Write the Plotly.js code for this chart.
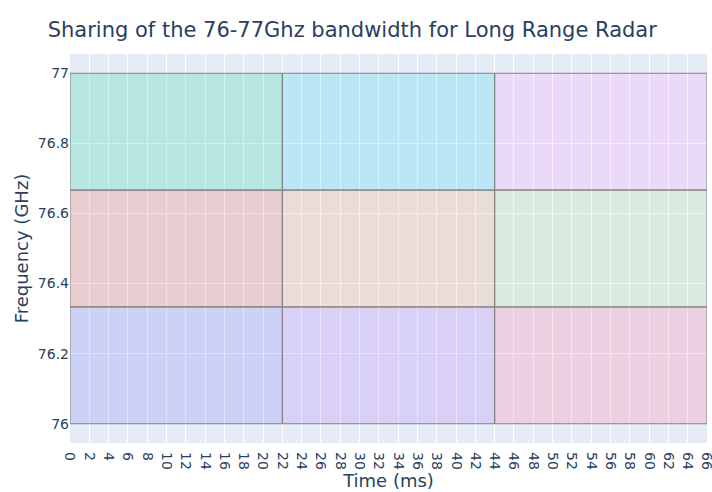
<!DOCTYPE html>
<html>
<head>
<meta charset="utf-8">
<script src="https://cdn.plot.ly/plotly-3.0.1.min.js"></script>
<style>html,body{margin:0;padding:0;background:#fff;}#chart{width:712px;height:492px;}</style>
</head>
<body>
<div id="chart"></div>
<script>
// Time slots (ms) and frequency bands (GHz) for each rectangle, column by column
const timeStart = [0, 0, 0, 22, 22, 22, 44, 44, 44];
const timeEnd   = [22, 22, 22, 44, 44, 44, 66, 66, 66];
const freqStart = [76, 76.3333, 76.6667, 76, 76.3333, 76.6667, 76, 76.3333, 76.6667];
const freqEnd   = [76.3333, 76.6667, 77, 76.3333, 76.6667, 77, 76.3333, 76.6667, 77];
const fillColors = ['#636efa', '#EF553B', '#00cc96', '#ab63fa', '#FFA15A', '#19d3f3', '#FF6692', '#B6E880', '#FF97FF'];
const xTickVals = [0,2,4,6,8,10,12,14,16,18,20,22,24,26,28,30,32,34,36,38,40,42,44,46,48,50,52,54,56,58,60,62,64,66];
const yTickVals = [76, 76.2, 76.4, 76.6, 76.8, 77];
const yTickText = ['76', '76.2', '76.4', '76.6', '76.8', '77'];

function hexToRgba(h, a) {
  const n = parseInt(h.slice(1), 16);
  return 'rgba(' + ((n >> 16) & 255) + ',' + ((n >> 8) & 255) + ',' + (n & 255) + ',' + a + ')';
}

const traces = timeStart.map((t0, i) => ({
  type: 'scatter',
  mode: 'lines',
  x: [t0, timeEnd[i], timeEnd[i], t0, t0],
  y: [freqStart[i], freqStart[i], freqEnd[i], freqEnd[i], freqStart[i]],
  fill: 'toself',
  fillcolor: hexToRgba(fillColors[i], 0.2),
  line: {color: 'rgba(128,128,128,1)', width: 1},
  hoverinfo: 'skip',
  showlegend: false
}));

const layout = {
  width: 712, height: 492,
  font: {family: '"DejaVu Sans", Verdana, sans-serif', size: 14, color: '#2a3f5f'},
  paper_bgcolor: '#ffffff',
  plot_bgcolor: '#E5ECF6',
  margin: {l: 70, r: 5, t: 54, b: 49},
  title: {text: 'Sharing of the 76-77Ghz bandwidth for Long Range Radar', x: 0.067, xanchor: 'left', y: 0.955, font: {size: 21}},
  xaxis: {
    title: {text: 'Time (ms)', font: {size: 18}, standoff: 0},
    range: [0, 66], tickvals: xTickVals, tickangle: 90, ticklabelstandoff: 8,
    ticklabeloverflow: 'allow',
    gridcolor: '#ffffff', zeroline: false, showline: false, ticks: ''
  },
  yaxis: {
    title: {text: 'Frequency (GHz)', font: {size: 18}, standoff: 4},
    range: [75.945, 77.055], tickvals: yTickVals, ticktext: yTickText,
    gridcolor: '#ffffff', zeroline: false, showline: false, ticks: ''
  }
};

Plotly.newPlot('chart', traces, layout, {displayModeBar: false, staticPlot: true});
</script>
</body>
</html>
